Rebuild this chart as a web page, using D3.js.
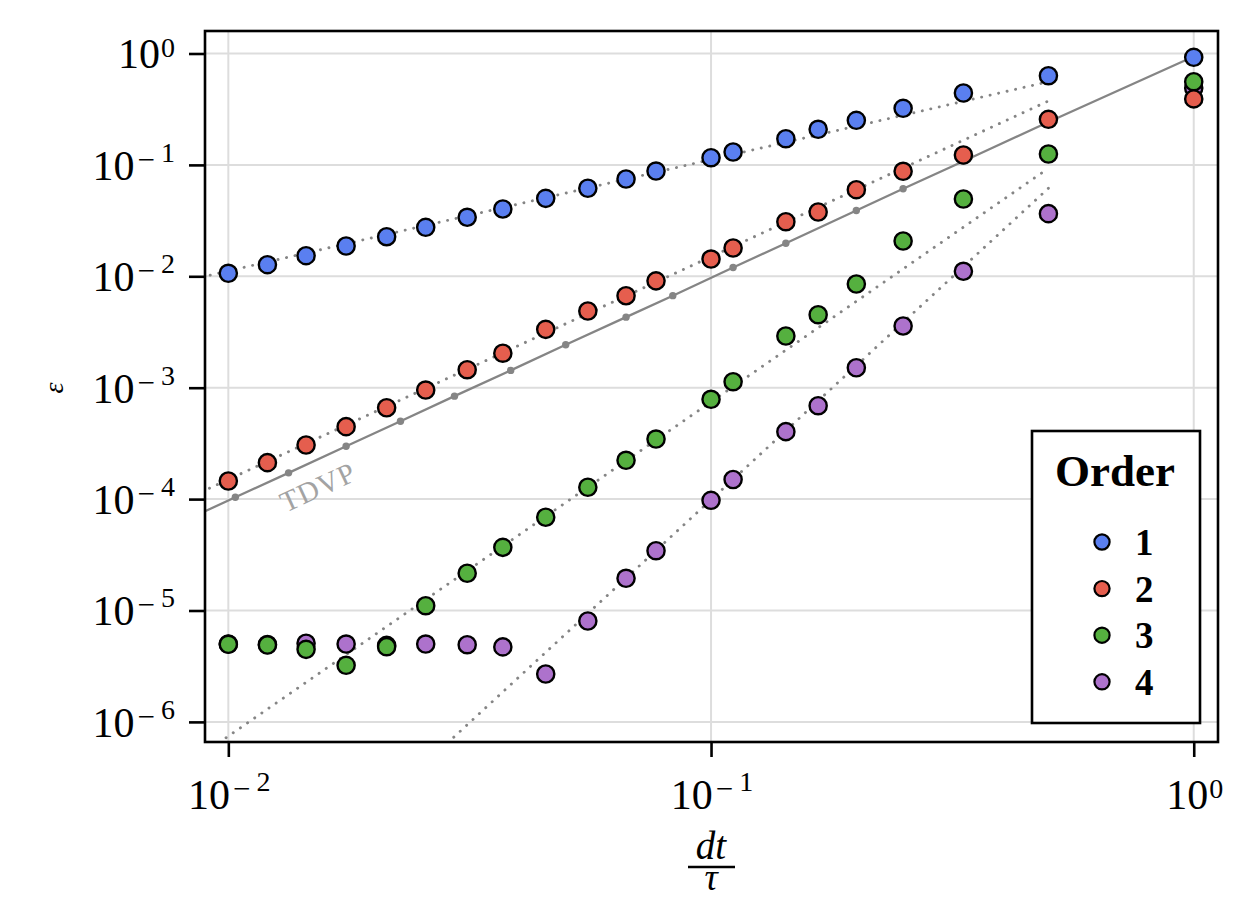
<!DOCTYPE html>
<html>
<head>
<meta charset="utf-8">
<script src="https://cdn.jsdelivr.net/npm/d3@7/dist/d3.min.js"></script>
<style>
  body { margin: 0; background: #fff; }
  text { font-family: "Liberation Serif", "DejaVu Serif", serif; }
</style>
</head>
<body>
<div id="chart"></div>
<script>
// time steps used for every order (dt / tau)
const dt = [0.01, 0.01205, 0.01449, 0.01754, 0.02128, 0.02564, 0.03125, 0.03704, 0.04545, 0.05556,
  0.06667, 0.07692, 0.1, 0.1111, 0.1429, 0.1667, 0.2, 0.25, 0.3333, 0.5, 1];

// error per order
const order1 = [0.01064, 0.01271, 0.01531, 0.01871, 0.02266, 0.02752, 0.03387, 0.04018, 0.0501, 0.0617,
  0.0747, 0.0881, 0.116, 0.1306, 0.1718, 0.2088, 0.2513, 0.322, 0.4418, 0.632, 0.924];
const order2 = [1.454e-4, 2.123e-4, 3.06e-4, 4.47e-4, 6.61e-4, 9.53e-4, 1.45e-3, 2.04e-3, 3.34e-3, 4.88e-3,
  6.69e-3, 9.1e-3, 0.01429, 0.01794, 0.0309, 0.03776, 0.0599, 0.0876, 0.1227, 0.2566, 0.391];
const order3 = [4.97e-6, 4.9e-6, 4.48e-6, 3.22e-6, 4.73e-6, 1.104e-5, 2.16e-5, 3.69e-5, 6.87e-5, 1.277e-4,
  2.23e-4, 3.46e-4, 7.87e-4, 1.132e-3, 2.91e-3, 4.52e-3, 8.53e-3, 0.02075, 0.0494, 0.1253, 0.558];
const order4 = [5.0e-6, 4.95e-6, 5.08e-6, 5.0e-6, 4.87e-6, 5.0e-6, 4.93e-6, 4.71e-6, 2.69e-6, 8.05e-6,
  1.946e-5, 3.44e-5, 9.75e-5, 1.5e-4, 4.03e-4, 6.89e-4, 1.51e-3, 3.58e-3, 0.01109, 0.0365, 0.49];

// TDVP reference
const tdvpDt = [0.0078, 0.01034, 0.01333, 0.01754, 0.02273, 0.02941, 0.03846, 0.05, 0.06667, 0.08333,
  0.1111, 0.1429, 0.2, 0.25, 0.3333, 0.5, 1];
const tdvpEps = [5.9e-5, 1.04e-4, 1.72e-4, 2.98e-4, 5.0e-4, 8.4e-4, 1.43e-3, 2.43e-3, 4.3e-3, 6.7e-3,
  1.2e-2, 1.98e-2, 3.9e-2, 6.1e-2, 0.108, 0.243, 0.94];

// fitted power laws (dotted), endpoints
const fitDt = [0.005, 0.5];
const fit1 = [5.58e-3, 0.558];
const fit2 = [3.75e-5, 0.375];
const fit3 = [9.3e-8, 0.0932];
const fit4 = [6.17e-10, 0.0617];

const orderNames = ["1", "2", "3", "4"];
const colors = ["#5a7ff0", "#e55e4e", "#55b03f", "#ad72cc"];
const xTicks = [0.01, 0.1, 1];
const xExp = ["-2", "-1", "0"];
const yTicks = [1e-6, 1e-5, 1e-4, 1e-3, 1e-2, 1e-1, 1];
const yExp = ["-6", "-5", "-4", "-3", "-2", "-1", "0"];

const W = 1250, H = 901;
const pLeft = 205, pRight = 1218, pTop = 31, pBottom = 742;

const svg = d3.select("#chart").append("svg")
  .attr("width", W).attr("height", H);

const x = d3.scaleLog().domain([0.008947, 1.1227]).range([pLeft, pRight]);
const y = d3.scaleLog().domain([6.6e-7, 1.592]).range([pBottom, pTop]);

svg.append("clipPath").attr("id", "clip")
  .append("rect").attr("x", pLeft).attr("y", pTop)
  .attr("width", pRight - pLeft).attr("height", pBottom - pTop);

// grid
const grid = svg.append("g");
grid.selectAll("line.gx").data(xTicks).enter().append("line")
  .attr("x1", d => x(d)).attr("x2", d => x(d))
  .attr("y1", pTop).attr("y2", pBottom)
  .style("stroke", "#dddddd").style("stroke-width", 2);
grid.selectAll("line.gy").data(yTicks).enter().append("line")
  .attr("y1", d => y(d)).attr("y2", d => y(d))
  .attr("x1", pLeft).attr("x2", pRight)
  .style("stroke", "#dddddd").style("stroke-width", 2);

const plot = svg.append("g").attr("clip-path", "url(#clip)");

// dotted fits
const fits = [fit1, fit2, fit3, fit4];
const line = d3.line().x(d => x(d[0])).y(d => y(d[1]));
fits.forEach(f => {
  plot.append("path")
    .attr("d", line(fitDt.map((d, i) => [d, f[i]])))
    .style("fill", "none")
    .style("stroke", "#858585")
    .style("stroke-width", 2.9)
    .style("stroke-linecap", "round")
    .style("stroke-dasharray", "0.1,8.6");
});

// TDVP line
const tdvp = tdvpDt.map((d, i) => [d, tdvpEps[i]]);
plot.append("path")
  .attr("d", line(tdvp))
  .style("fill", "none").style("stroke", "#858585").style("stroke-width", 2.3);
plot.selectAll("circle.tdvp").data(tdvp).enter().append("circle")
  .attr("class", "tdvp")
  .attr("cx", d => x(d[0])).attr("cy", d => y(d[1])).attr("r", 3.7)
  .style("fill", "#858585");

svg.append("text")
  .attr("transform", "translate(322,496) rotate(-24.7)")
  .attr("text-anchor", "middle")
  .style("font-size", "29px")
  .style("letter-spacing", "1px")
  .style("fill", "#a3a3a3")
  .text("TDVP");

// markers, drawn from order 4 up to order 1
const series = [order1, order2, order3, order4];
for (let k = series.length - 1; k >= 0; k--) {
  svg.append("g").selectAll("circle").data(series[k]).enter().append("circle")
    .attr("cx", (d, i) => x(dt[i]))
    .attr("cy", d => y(d))
    .attr("r", 8.6)
    .style("fill", colors[k])
    .style("stroke", "#000")
    .style("stroke-width", 2.4);
}

// axes (ticks only)
const xAxis = svg.append("g").attr("transform", "translate(0," + pBottom + ")")
  .call(d3.axisBottom(x).tickValues(xTicks).tickSize(15).tickSizeOuter(0).tickFormat(""));
const yAxis = svg.append("g").attr("transform", "translate(" + pLeft + ",0)")
  .call(d3.axisLeft(y).tickValues(yTicks).tickSize(16).tickSizeOuter(0).tickFormat(""));
[xAxis, yAxis].forEach(a => {
  a.select(".domain").remove();
  a.selectAll(".tick line").style("stroke", "#000").style("stroke-width", 2.6);
});

// "10" with a raised exponent, minus typeset wide as in the reference
function powLabel(txt, exp) {
  txt.append("tspan").text("10");
  if (exp[0] === "-") {
    txt.append("tspan").attr("dy", -10).attr("dx", 3)
      .style("font-size", "31px").text("\u2212");
    txt.append("tspan").attr("dy", -8).attr("dx", 6)
      .style("font-size", "28px").text(exp.slice(1));
  } else {
    txt.append("tspan").attr("dy", -11).attr("dx", 1)
      .style("font-size", "28px").text(exp);
  }
}

xTicks.forEach((t, i) => {
  const txt = svg.append("text")
    .attr("x", x(t) + 1).attr("y", 809)
    .attr("text-anchor", "middle")
    .style("font-size", "42px");
  powLabel(txt, xExp[i]);
});

yTicks.forEach((t, i) => {
  const txt = svg.append("text")
    .attr("x", 175).attr("y", y(t) + 15)
    .attr("text-anchor", "end")
    .style("font-size", "42px");
  powLabel(txt, yExp[i]);
});

// frame
svg.append("rect")
  .attr("x", pLeft).attr("y", pTop)
  .attr("width", pRight - pLeft).attr("height", pBottom - pTop)
  .style("fill", "none").style("stroke", "#000").style("stroke-width", 2.6);

// axis labels
svg.append("text")
  .attr("transform", "translate(63,388) rotate(-90)")
  .attr("text-anchor", "middle")
  .style("font-size", "28px").style("font-style", "italic")
  .text("\u03b5");

svg.append("text").attr("x", 711).attr("y", 859)
  .attr("text-anchor", "middle")
  .style("font-size", "39px").style("font-style", "italic")
  .text("dt");
svg.append("line")
  .attr("x1", 688).attr("x2", 735).attr("y1", 867).attr("y2", 867)
  .style("stroke", "#000").style("stroke-width", 2.4);
svg.append("text").attr("x", 711).attr("y", 890)
  .attr("text-anchor", "middle")
  .style("font-size", "37px").style("font-style", "italic")
  .text("\u03c4");

// legend
const lg = svg.append("g");
lg.append("rect")
  .attr("x", 1032).attr("y", 431).attr("width", 168).attr("height", 292)
  .style("fill", "#fff").style("stroke", "#000").style("stroke-width", 2.6);
lg.append("text")
  .attr("x", 1115).attr("y", 486)
  .attr("text-anchor", "middle")
  .style("font-size", "45px").style("font-weight", "bold")
  .text("Order");
orderNames.forEach((n, i) => {
  const cy = 542 + i * 46.6;
  lg.append("circle")
    .attr("cx", 1102).attr("cy", cy).attr("r", 7.6)
    .style("fill", colors[i]).style("stroke", "#000").style("stroke-width", 2.2);
  lg.append("text")
    .attr("x", 1135).attr("y", cy + 13)
    .style("font-size", "37px").style("font-weight", "bold")
    .text(n);
});
</script>
</body>
</html>
